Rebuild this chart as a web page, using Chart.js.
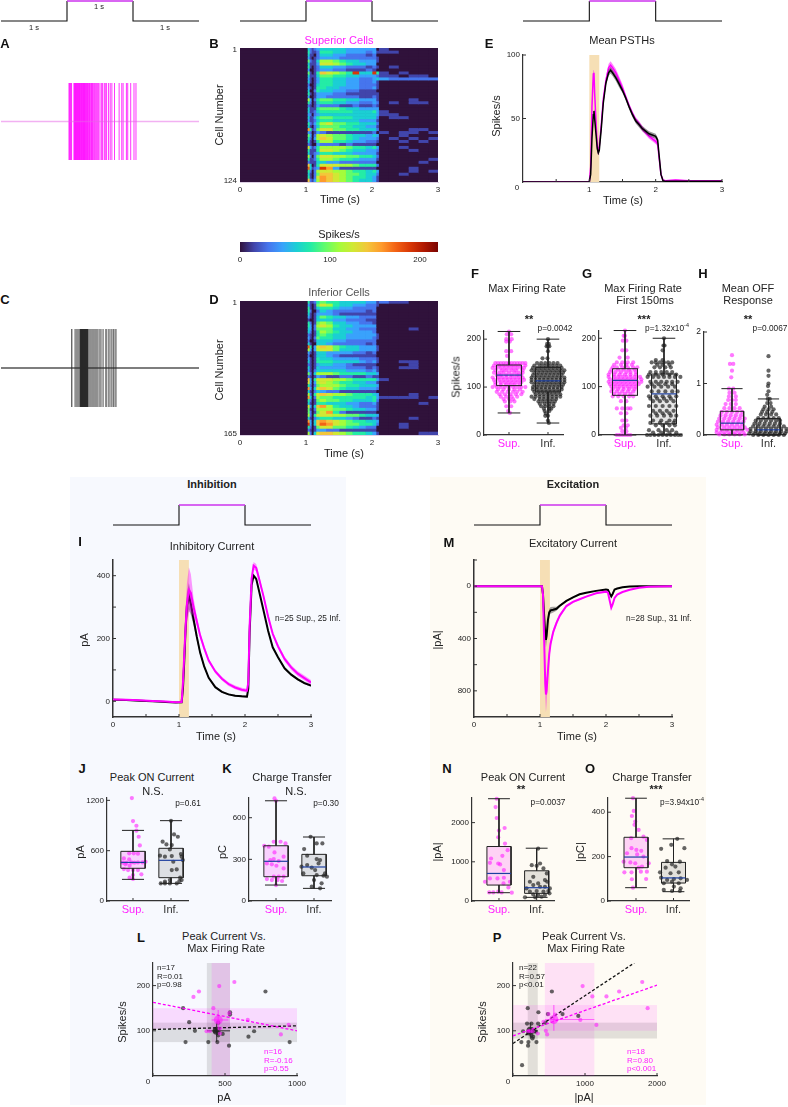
<!DOCTYPE html>
<html>
<head>
<meta charset="utf-8">
<title>Superior and inferior cells</title>
<script src="https://cdn.jsdelivr.net/npm/chart.js@4"></script>
<style>
  html, body { margin: 0; padding: 0; background: #fff; }
  #page { position: relative; width: 788px; height: 1107px; overflow: hidden; font-family: "Liberation Sans", Arial, sans-serif; color: #222; }
  #page canvas { position: absolute; }
  .bg { position: absolute; }
  .txt { position: absolute; white-space: nowrap; transform: translate(-50%, -50%); line-height: 1; }
  .txt sup { font-size: 0.65em; line-height: 0; }
</style>
</head>
<body>
<div id="page">
  <div class="bg" style="left:70px;top:477px;width:276px;height:628px;background:#f7f9fe"></div>
  <div class="bg" style="left:430px;top:477px;width:276px;height:628px;background:#fefbf4"></div>
</div>
<script>
// Stimulus step
const stimT = [0, 1, 1, 2, 2, 3];
const stimV = [0, 0, 1, 1, 0, 0];

// Example rasters (spike times, s)
const supSpikes = [1.03, 1.04, 1.05, 1.06, 1.07, 1.105, 1.112, 1.12, 1.128, 1.135, 1.142, 1.15, 1.157, 1.165, 1.172, 1.18, 1.187, 1.195, 1.2, 1.21, 1.217, 1.225, 1.232, 1.24, 1.25, 1.258, 1.265, 1.275, 1.283, 1.292, 1.3, 1.31, 1.32, 1.33, 1.34, 1.35, 1.362, 1.372, 1.385, 1.395, 1.408, 1.42, 1.435, 1.45, 1.465, 1.48, 1.5, 1.525, 1.54, 1.565, 1.58, 1.6, 1.63, 1.655, 1.68, 1.72, 1.79, 1.83, 1.85, 1.9, 1.92, 1.965, 2.015, 2.045];
const infSpikes = [1.07, 1.075, 1.12, 1.135, 1.15, 1.165, 1.18, 1.195, 1.2, 1.205, 1.21, 1.215, 1.22, 1.225, 1.23, 1.235, 1.24, 1.245, 1.25, 1.255, 1.26, 1.265, 1.27, 1.275, 1.28, 1.285, 1.29, 1.295, 1.3, 1.305, 1.31, 1.315, 1.32, 1.335, 1.35, 1.365, 1.38, 1.395, 1.41, 1.425, 1.44, 1.455, 1.47, 1.49, 1.51, 1.53, 1.55, 1.585, 1.6, 1.625, 1.64, 1.665, 1.68, 1.7, 1.71, 1.73, 1.745];

// Heat maps: time bins (s), colour levels, one string per row, one char per bin
const heatEdges = [0, 1.02, 1.05, 1.08, 1.11, 1.15, 1.2, 1.3, 1.4, 1.5, 1.6, 1.7, 1.8, 1.9, 2, 2.06, 2.1, 2.25, 2.4, 2.55, 2.7, 2.85, 3];
const heatColors = ['#30123b', '#4145ab', '#4675ed', '#39a2fc', '#1bcfd4', '#24eca6', '#61fc6c', '#a4fc3b', '#d1e834', '#f3c63a', '#fe9b2d', '#f36315', '#d93806', '#b11901', '#7a0402'];
const heatSup = [
  '0 42123 44443333 30 100000', '0 52112 55443332 31 110000', '0 41102 44332221 20 000000',
  '0 31012 33322222 21 000000', '0 62114 77654433 31 000000', '0 41113 88765443 30 000000',
  '0 51012 44332221 21 010000', '0 30012 33221112 10 000000', '0 61015 98765c44 c5 101000',
  '0 41114 66554433 32 110110', '0 31013 55443322 34 322222', '0 41013 55443322 31 000000',
  '0 20014 55443322 21 000000', '0 31015 54433322 31 000000', '0 40025 44332211 10 000000',
  '0 51013 33221111 11 000000', '0 30013 32222211 21 000000', '0 73025 66554433 31 000100',
  '0 52014 55443322 32 010110', '0 21013 22211211 21 000000', '0 41115 66654433 33 000000',
  '0 41124 55555444 53 100000', '0 32023 44444444 43 110000', '0 41135 66555444 42 011000',
  '0 31124 55444433 31 000000', '0 52135 78665544 42 000000', '0 41024 66655443 31 000000',
  '0 a5126 88665544 42 000110', '0 32013 21111111 20 101101', '0 63027 87665443 43 001000',
  '0 52037 98665433 32 010101', '0 41015 77554332 21 001010', '0 21003 22212111 10 000000',
  '0 83125 77776554 53 001000', '0 51115 88765443 32 000100', '0 41123 55444333 31 000000',
  '0 72026 88776655 42 000000', '0 51125 77655433 31 000001', '0 21114 43322222 20 000010',
  '0 94015 88877655 52 000000', '0 b4123 ca311111 10 000100', '0 52027 88776554 53 000101',
  '0 41026 99876654 42 001000', '0 51028 a9876554 31 000000', '0 92137 a9876544 31 000000'
];
const heatInf = [
  '0 51125 65544443 31 211000', '0 31016 87544332 21 000000', '0 51014 55433222 20 000000',
  '0 52002 43222221 20 000000', '0 41013 33211111 10 000000', '0 31014 65443322 20 000000',
  '0 10014 44332221 10 000000', '0 52016 76443322 10 000000', '0 53027 87544333 30 000000',
  '0 43026 66443322 20 000100', '0 42015 76544333 20 000000', '0 21015 65443333 31 000000',
  '0 31026 55443333 21 000000', '0 20014 44332222 20 000000', '0 41004 43222221 20 000000',
  '0 b5038 98654433 31 000000', '0 73037 88644433 31 000000', '0 31014 43333221 20 000000',
  '0 20014 43211111 10 000000', '0 31015 44333322 21 000000', '0 41015 55444432 31 001100',
  '0 21013 44332111 10 000100', '0 41014 33332221 21 001100', '0 31024 44443332 31 000000',
  '0 62047 77655554 43 000000', '0 21013 21122112 11 000000', '0 93058 88776555 53 100000',
  '0 83037 87655443 31 000000', '0 52026 77765544 43 000000', '0 a3048 98654433 32 000000',
  '0 41024 32211111 10 000000', '0 72058 98776555 43 000100', '0 a4027 66555554 53 111101',
  '0 52016 76655444 52 000000', '0 41015 54443322 31 000010', '0 83049 a7544322 21 000000',
  '0 61027 77665443 31 000000', '0 62016 8a521111 10 000000', '0 72058 88776654 43 000000',
  '0 41024 55443211 21 000100', '0 a3049 a9876554 43 000000', '0 c3049 ba876655 42 001000',
  '0 52016 88665432 20 001000', '0 21013 32211111 10 000000', '0 72048 99876554 31 000011'
];
const turboStops = ['#30123b', '#4145ab', '#4675ed', '#39a2fc', '#1bcfd4', '#24eca6', '#61fc6c', '#a4fc3b', '#d1e834', '#f3c63a', '#fe9b2d', '#f36315', '#d93806', '#b11901', '#7a0402'];

// Mean PSTHs
const psthT = [0, 0.5, 0.98, 1, 1.02, 1.04, 1.06, 1.07, 1.08, 1.1, 1.12, 1.135, 1.15, 1.18, 1.21, 1.25, 1.29, 1.32, 1.35, 1.4, 1.45, 1.5, 1.55, 1.6, 1.65, 1.7, 1.75, 1.8, 1.85, 1.9, 1.95, 2, 2.03, 2.05, 2.08, 2.11, 2.15, 2.3, 2.5, 2.7, 3];
const psthSup = [0, 0.2, 0, 0, 12, 60, 85, 86, 70, 48, 28, 24, 28, 45, 65, 80, 90, 92, 90, 86, 80, 74, 67, 60, 54, 49, 46, 42, 39, 36, 34, 32, 30, 20, 6, 1.5, 1, 1.5, 1, 1, 1];
const psthSupSem = [0, 0, 0, 0, 1, 2, 3, 3, 3, 2, 2, 2, 2, 2, 3, 3, 3, 3, 3, 3, 3, 3, 2, 2, 2, 2, 2, 2, 2, 2, 2, 2, 2, 2, 1, 0.5, 0.5, 0.5, 0.3, 0.3, 0.3];
const psthInf = [0, 0, 0, 0, 6, 35, 53, 56, 50, 38, 26, 23, 25, 42, 62, 78, 86, 88, 86, 82, 77, 72, 66, 59, 53, 48, 45, 42, 40, 38, 37, 36, 33, 22, 6, 1, 0.5, 0.5, 0.5, 0.5, 0.5];
const psthInfSem = [0, 0, 0, 0, 1, 2, 2.5, 2.5, 2, 2, 2, 2, 2, 2, 2, 2, 2.5, 2.5, 2.5, 2.5, 2.5, 2, 2, 2, 2, 2, 2, 2, 2, 2, 2, 2, 2, 1.5, 1, 0.3, 0.3, 0.3, 0.2, 0.2, 0.2];

// Inhibitory current
const inhT = [0, 0.2, 0.4, 0.6, 0.8, 0.95, 1.04, 1.06, 1.08, 1.1, 1.12, 1.15, 1.18, 1.22, 1.27, 1.32, 1.38, 1.45, 1.55, 1.65, 1.75, 1.85, 1.95, 2.03, 2.05, 2.07, 2.1, 2.13, 2.17, 2.22, 2.28, 2.35, 2.42, 2.5, 2.6, 2.7, 2.8, 2.9, 3];
const inhSup = [6, 5, 3, 1, -1, -3, -2, 60, 150, 240, 310, 355, 345, 300, 255, 210, 170, 130, 95, 72, 55, 44, 37, 34, 60, 240, 390, 432, 425, 385, 335, 270, 215, 175, 135, 108, 88, 74, 60];
const inhSupSem = [2, 2, 2, 2, 2, 2, 2, 20, 35, 50, 65, 72, 60, 30, 15, 10, 8, 6, 6, 6, 6, 6, 6, 6, 8, 10, 12, 12, 12, 10, 8, 8, 8, 8, 8, 8, 8, 8, 8];
const inhInf = [5, 4, 2, 0, -2, -4, -3, 40, 130, 230, 305, 335, 310, 262, 205, 155, 112, 75, 45, 30, 22, 18, 16, 15, 40, 220, 370, 400, 390, 345, 290, 225, 172, 140, 105, 85, 70, 58, 50];
const inhInfSem = [1, 1, 1, 1, 1, 1, 1, 10, 25, 35, 40, 42, 35, 20, 12, 8, 6, 4, 3, 3, 3, 3, 3, 3, 4, 6, 6, 6, 6, 5, 4, 4, 4, 4, 4, 4, 4, 4, 4];

// Excitatory current
const excT = [0, 0.5, 1, 1.03, 1.045, 1.06, 1.08, 1.09, 1.1, 1.12, 1.14, 1.16, 1.2, 1.25, 1.3, 1.4, 1.5, 1.6, 1.7, 1.85, 2, 2.03, 2.06, 2.08, 2.1, 2.13, 2.17, 2.25, 2.36, 2.5, 2.65, 2.8, 3];
const excSup = [0, 0, 0, 0, 60, 350, 750, 828, 800, 650, 520, 440, 350, 281, 225, 152, 120, 100, 80, 54, 42, 50, 120, 165, 140, 90, 65, 45, 28, 12, 5, 2, 0];
const excSupSem = [0, 0, 0, 0, 10, 30, 100, 135, 100, 60, 40, 30, 25, 20, 15, 10, 8, 6, 5, 4, 4, 4, 8, 12, 10, 6, 4, 3, 2, 1, 1, 0, 0];
const excInf = [0, 0, 0, 0, 60, 200, 380, 410, 380, 260, 200, 185, 180, 173, 150, 113, 85, 62, 50, 36, 26, 28, 60, 78, 60, 25, 18, 8, 3, 1, 0, 0, 0];
const excInfSem = [0, 0, 0, 0, 5, 15, 40, 60, 45, 30, 25, 25, 22, 15, 10, 6, 4, 3, 3, 2, 2, 2, 3, 4, 3, 2, 2, 1, 1, 0, 0, 0, 0];

// Box stats: low whisker, q1, median, q3, high whisker
const fSupBox = [46, 103, 125, 146, 216];
const fInfBox = [25, 90, 113, 141, 200];
const gSupBox = [0, 82, 113, 137, 216];
const gInfBox = [0, 23, 85, 126, 200];
const hSupBox = [0, 0.1, 0.23, 0.46, 0.9];
const hInfBox = [0, 0, 0.1, 0.32, 0.7];
const jSupBox = [258, 390, 460, 592, 842];
const jInfBox = [210, 278, 485, 628, 958];
const kSupBox = [115, 175, 286, 398, 722];
const kInfBox = [91, 182, 245, 336, 461];
const nSupBox = [212, 407, 703, 1390, 2610];
const nInfBox = [93, 195, 339, 771, 1347];
const oSupBox = [60, 150, 198, 287, 463];
const oInfBox = [42, 81, 104, 174, 280];

// Swarms as [value, [offsets from the box centre]]
const fSupRows = [[216, [0]], [210, [-0.08, 0.08]], [200, [-0.1, 0.1]], [195, [-0.1, 0.03]], [175, [-0.1, 0.08]], [165, [-0.07]], [150, [-0.5, -0.4, -0.3, -0.2, -0.1, 0, 0.1, 0.2, 0.3, 0.4, 0.5, 0.6]], [145, [-0.55, -0.35, -0.2, -0.05, 0.1, 0.25, 0.4, 0.6]], [140, [-0.6, -0.45, -0.3, -0.15, 0, 0.15, 0.3, 0.45, 0.55]], [135, [-0.5, -0.25, -0.1, 0.1, 0.25, 0.5]], [130, [-0.55, -0.35, -0.2, 0, 0.2, 0.35, 0.5]], [125, [-0.45, -0.3, -0.1, 0.1, 0.3, 0.45]], [120, [-0.6, -0.4, -0.25, -0.1, 0.05, 0.2, 0.35, 0.5]], [115, [-0.55, -0.35, -0.2, -0.05, 0.1, 0.25, 0.4, 0.55]], [110, [-0.5, -0.3, -0.15, 0, 0.15, 0.3, 0.45]], [105, [-0.5, -0.3, -0.1, 0.05, 0.2, 0.4]], [100, [-0.6, -0.45, -0.3, -0.15, 0, 0.15, 0.3, 0.45, 0.6]], [95, [-0.4, -0.2, 0, 0.2, 0.4]], [90, [-0.45, -0.25, -0.05, 0.15, 0.3, 0.5]], [85, [-0.35, -0.15, 0.05, 0.25, 0.45]], [80, [-0.3, -0.1, 0.1, 0.3]], [75, [-0.2, 0, 0.15]], [70, [-0.15, 0.05, 0.2]], [60, [-0.1, 0.08]], [50, [-0.03]], [46, [0.03]]];
const fInfRows = [[200, [0]], [190, [-0.03, 0.03]], [185, [-0.05, 0, 0.05]], [175, [0]], [160, [-0.2, -0.02]], [150, [-0.4, -0.25, -0.1, 0.05, 0.2, 0.35]], [145, [-0.5, -0.3, -0.15, 0, 0.15, 0.3, 0.45]], [140, [-0.55, -0.4, -0.25, -0.1, 0.05, 0.2, 0.35, 0.5]], [135, [-0.6, -0.45, -0.3, -0.15, 0, 0.15, 0.3, 0.45, 0.6]], [130, [-0.5, -0.35, -0.2, -0.05, 0.1, 0.25, 0.4, 0.55]], [125, [-0.55, -0.4, -0.25, -0.1, 0.05, 0.2, 0.35, 0.5]], [120, [-0.6, -0.45, -0.3, -0.15, 0, 0.15, 0.3, 0.45, 0.6]], [115, [-0.6, -0.45, -0.3, -0.15, 0, 0.15, 0.3, 0.45, 0.6]], [110, [-0.6, -0.45, -0.3, -0.15, 0, 0.15, 0.3, 0.45, 0.6]], [105, [-0.5, -0.35, -0.2, -0.05, 0.1, 0.25, 0.4, 0.55]], [100, [-0.55, -0.4, -0.25, -0.1, 0.05, 0.2, 0.35, 0.5]], [95, [-0.55, -0.4, -0.25, -0.1, 0.05, 0.2, 0.35, 0.5]], [90, [-0.5, -0.35, -0.2, -0.05, 0.1, 0.25, 0.4]], [85, [-0.45, -0.3, -0.15, 0, 0.15, 0.3, 0.45]], [80, [-0.6, -0.45, -0.3, -0.15, 0, 0.15, 0.3, 0.45]], [75, [-0.5, -0.3, -0.15, 0, 0.15, 0.3]], [70, [-0.35, -0.2, -0.05, 0.1, 0.25]], [65, [-0.3, -0.12, 0.05, 0.2]], [60, [-0.25, -0.1, 0.05, 0.2]], [55, [-0.15, 0.05, 0.12]], [50, [-0.12, 0.05]], [45, [-0.08]], [40, [-0.1, 0]], [30, [0]], [25, [0.03]]];
const gSupRows = [[216, [0]], [205, [0, -0.05]], [195, [-0.08, 0.05]], [175, [-0.1, 0.05]], [160, [-0.2, 0.1]], [150, [-0.3, -0.1, 0.1, 0.3]], [145, [-0.4, -0.15, 0.05, 0.25]], [140, [-0.45, -0.3, -0.1, 0.1, 0.3, 0.45]], [135, [-0.5, -0.25, -0.05, 0.15, 0.35]], [130, [-0.55, -0.35, -0.15, 0.05, 0.2, 0.4]], [125, [-0.6, -0.4, -0.2, 0, 0.2, 0.4]], [120, [-0.6, -0.4, -0.25, -0.1, 0.05, 0.2, 0.35, 0.55]], [115, [-0.55, -0.35, -0.2, -0.05, 0.1, 0.25, 0.4, 0.6]], [110, [-0.6, -0.45, -0.3, -0.15, 0, 0.15, 0.3, 0.45, 0.6]], [105, [-0.55, -0.4, -0.25, -0.1, 0.05, 0.2, 0.35, 0.5]], [100, [-0.5, -0.35, -0.2, -0.05, 0.1, 0.25, 0.4]], [95, [-0.45, -0.25, -0.05, 0.15, 0.35]], [90, [-0.5, -0.3, -0.1, 0.1, 0.3]], [85, [-0.4, -0.2, 0, 0.2]], [80, [-0.45, -0.25, -0.05, 0.15, 0.3]], [70, [-0.15, 0.05]], [55, [-0.3, -0.1, 0.1, 0.2]], [45, [-0.15, 0.05]], [30, [-0.1, 0.05]], [20, [-0.05, 0.1]], [15, [-0.15, 0.03]], [8, [-0.1, 0.05]], [0, [-0.3, -0.2, -0.1, 0, 0.1, 0.2]]];
const gInfRows = [[200, [0]], [185, [-0.02, 0.02]], [175, [-0.05]], [155, [-0.3, -0.05]], [150, [-0.45, -0.3, -0.15, 0, 0.15, 0.3]], [145, [-0.25, -0.05, 0.2]], [140, [-0.35, -0.15, 0.05, 0.25]], [130, [-0.5, -0.3, -0.1, 0.1, 0.3]], [125, [-0.55, -0.3, -0.05, 0.2, 0.45]], [120, [-0.6, -0.4, -0.2, 0, 0.2, 0.4, 0.6]], [110, [-0.5, -0.3, -0.1, 0.1, 0.3, 0.5]], [105, [-0.45, -0.2, 0.05, 0.3]], [100, [-0.6, -0.35, -0.1, 0.15, 0.4]], [90, [-0.45, -0.2, 0.05, 0.3, 0.5]], [80, [-0.55, -0.3, -0.05, 0.2, 0.45]], [75, [-0.5, -0.25, 0, 0.25]], [70, [-0.4, -0.15, 0.1, 0.35]], [60, [-0.55, -0.3, -0.05, 0.2, 0.45]], [50, [-0.4, -0.15, 0.1, 0.35]], [45, [-0.3, -0.05, 0.2]], [40, [-0.5, -0.25, 0, 0.25, 0.45]], [30, [-0.4, -0.1, 0.2, 0.4]], [25, [-0.5, -0.15, 0.1, 0.35]], [20, [-0.3, -0.05, 0.2, 0.4]], [10, [-0.55, -0.2, 0.1, 0.3]], [5, [-0.4, -0.1, 0.2, 0.45]], [0, [-0.62, -0.5, -0.35, -0.2, -0.05, 0.1, 0.25, 0.4, 0.52, 0.62]]];
const hSupRows = [[1.55, [0]], [1.38, [-0.08, 0.05]], [1.25, [0]], [1.12, [-0.03]], [0.9, [-0.12, 0.05]], [0.82, [-0.1, 0.1]], [0.75, [-0.12, 0.15]], [0.68, [-0.15, 0, 0.15]], [0.6, [-0.25, -0.05, 0.15]], [0.52, [-0.3, -0.1, 0.1, 0.3]], [0.45, [-0.4, -0.2, 0, 0.2, 0.4]], [0.38, [-0.45, -0.25, -0.05, 0.15, 0.35]], [0.32, [-0.5, -0.3, -0.1, 0.1, 0.3, 0.5]], [0.26, [-0.55, -0.35, -0.15, 0.05, 0.25, 0.45]], [0.2, [-0.6, -0.4, -0.2, 0, 0.2, 0.4]], [0.15, [-0.55, -0.3, -0.1, 0.1, 0.3, 0.5]], [0.1, [-0.6, -0.4, -0.2, 0, 0.2, 0.4, 0.6]], [0.05, [-0.6, -0.45, -0.3, -0.15, 0, 0.15, 0.3, 0.45]], [0.01, [-0.5, -0.3, -0.1, 0.1, 0.3, 0.5]]];
const hInfRows = [[1.53, [0]], [1.25, [0]], [1.15, [0]], [1, [0]], [0.95, [-0.02]], [0.85, [0]], [0.78, [-0.05]], [0.7, [-0.03, 0.05]], [0.62, [-0.05, 0.08]], [0.55, [-0.15, 0.1]], [0.5, [-0.2, 0, 0.2]], [0.45, [-0.25, -0.05, 0.15]], [0.4, [-0.3, -0.1, 0.1, 0.3]], [0.33, [-0.4, -0.2, 0, 0.2, 0.4]], [0.28, [-0.5, -0.3, -0.1, 0.1, 0.3, 0.45]], [0.22, [-0.55, -0.35, -0.15, 0.05, 0.25, 0.45]], [0.17, [-0.6, -0.4, -0.2, 0, 0.2, 0.4, 0.6]], [0.12, [-0.7, -0.5, -0.3, -0.1, 0.1, 0.3, 0.5, 0.7]], [0.07, [-0.7, -0.5, -0.3, -0.1, 0.1, 0.3, 0.5, 0.7]], [0.03, [-0.75, -0.55, -0.35, -0.15, 0.05, 0.25, 0.45, 0.65]], [0, [-0.6, -0.4, -0.2, 0, 0.2, 0.4, 0.6]]];

// Single cells as [offset, value]
const jSupPts = [[-0.03, 1227], [0, 953], [0.09, 897], [0.09, 838], [0.15, 766], [0.18, 663], [-0.1, 568], [0.02, 568], [0.13, 564], [-0.24, 508], [-0.1, 496], [-0.27, 457], [-0.18, 457], [-0.04, 460], [0.04, 457], [0.13, 460], [0.25, 460], [0.33, 468], [-0.2, 437], [-0.09, 421], [-0.24, 381], [-0.13, 369], [0, 369], [0.13, 369], [0.22, 318], [0, 310], [-0.09, 278], [0, 262]];
const jInfPts = [[0, 957], [0.08, 794], [0.18, 766], [-0.22, 707], [-0.12, 675], [0.02, 667], [-0.03, 615], [-0.29, 540], [-0.16, 528], [0.02, 536], [0.26, 560], [0.28, 528], [0.31, 488], [0.06, 468], [0.02, 369], [0.15, 377], [0.28, 250], [0.24, 278], [-0.03, 250], [-0.16, 230], [-0.27, 210], [-0.16, 210], [-0.03, 210], [0.15, 210], [0.22, 238]];
const kSupPts = [[-0.04, 739], [0, 722], [-0.06, 427], [0.12, 427], [0.25, 415], [-0.31, 398], [-0.19, 391], [-0.04, 350], [0.2, 319], [-0.15, 295], [-0.06, 302], [0.07, 288], [-0.24, 271], [-0.11, 264], [0.01, 254], [0.2, 235], [-0.06, 175], [0.07, 175], [0.2, 175], [-0.24, 158], [-0.11, 151], [0.04, 151], [0.16, 144], [0, 115]];
const kInfPts = [[-0.09, 463], [-0.26, 374], [0.22, 415], [0.07, 415], [-0.18, 326], [0.07, 302], [0.16, 295], [-0.18, 259], [-0.33, 247], [-0.06, 240], [0.12, 271], [0.03, 223], [-0.28, 199], [0.29, 199], [0.07, 187], [0.25, 182], [0.2, 127], [0, 151], [-0.06, 103], [0.16, 91], [0.34, 175]];
const nSupPts = [[-0.06, 2609], [-0.09, 2397], [-0.06, 2118], [0, 1796], [0.15, 1863], [-0.02, 1626], [0.16, 1465], [0.23, 1296], [0.09, 1152], [-0.21, 1084], [-0.02, 957], [0.03, 932], [-0.24, 974], [0.13, 788], [-0.04, 576], [0.13, 593], [-0.24, 576], [-0.37, 491], [0.12, 449], [0.29, 491], [0.25, 347], [-0.26, 220], [-0.15, 220], [-0.02, 237], [0.07, 220], [0.34, 212]];
const nInfPts = [[0.04, 1338], [0.09, 957], [-0.13, 915], [0, 898], [0.18, 830], [0.27, 703], [-0.09, 618], [0.22, 534], [-0.18, 491], [0.04, 449], [0.28, 491], [-0.27, 322], [-0.09, 407], [0.09, 364], [0.22, 364], [0.35, 322], [-0.18, 237], [0, 254], [0.18, 237], [0.31, 254], [-0.09, 169], [0.04, 152], [0.22, 152], [-0.31, 93], [-0.04, 93], [0.13, 110], [0.34, 195]];
const oSupPts = [[-0.08, 463], [-0.06, 406], [-0.11, 383], [-0.02, 358], [-0.04, 343], [0.07, 320], [0.2, 290], [-0.13, 283], [0.29, 275], [-0.12, 238], [0.01, 230], [0.14, 226], [-0.24, 215], [0.03, 210], [0.2, 200], [-0.33, 177], [-0.15, 174], [-0.02, 170], [0.34, 170], [0.16, 155], [0.07, 150], [-0.31, 129], [-0.12, 129], [0.13, 132], [0.29, 132], [-0.11, 98], [0.27, 99], [-0.08, 60]];
const oInfPts = [[0.1, 280], [-0.06, 253], [-0.33, 235], [0.29, 238], [-0.17, 180], [-0.04, 165], [0.17, 177], [0.05, 155], [-0.21, 150], [-0.36, 129], [-0.08, 125], [0.14, 129], [-0.33, 105], [-0.17, 95], [0.01, 99], [0.19, 102], [0.36, 95], [-0.26, 80], [-0.04, 87], [0.14, 80], [0.01, 65], [-0.26, 50], [0.19, 57], [-0.04, 45], [0.17, 45]];

// Scatter panels as [current, firing rate]
const lInfPts = [[209, 150], [251, 119], [226, 75], [291, 100], [384, 75], [447, 75], [453, 118], [528, 67], [535, 141], [535, 136], [702, 99], [663, 87], [781, 187], [949, 75], [484, 93], [442, 101], [430, 99], [453, 96], [453, 90]];
const lSupPts = [[281, 175], [319, 187], [460, 199], [565, 208], [419, 150], [658, 124], [530, 139], [942, 113], [888, 92], [372, 99], [395, 99], [465, 105], [465, 94], [453, 120]];
const lSupFit = [[0, 163], [1000, 100]];
const lInfFit = [[0, 103], [1000, 111]];
const lSupMean = [453, 124, 407, 523, 101, 146];
const lInfMean = [442, 100, 374, 535, 75, 117];
const pInfPts = [[540, 187], [205, 150], [353, 141], [907, 133], [688, 137], [484, 137], [451, 118], [195, 116], [256, 116], [349, 116], [140, 99], [233, 99], [302, 99], [316, 98], [116, 75], [214, 75], [326, 75], [209, 67], [270, 83], [126, 24], [279, 87], [256, 90], [209, 94]];
const pSupPts = [[967, 199], [1795, 208], [1102, 176], [1298, 176], [1474, 187], [1870, 150], [1158, 113], [935, 124], [586, 136], [493, 137], [423, 120], [456, 100], [474, 92], [344, 94], [209, 99], [242, 99], [274, 99]];
const pSupFit = [[0, 89], [2000, 201]];
const pInfFit = [[0, 72], [1684, 250]];
const pSupMean = [567, 125, 442, 1130, 100, 157];
const pInfMean = [242, 100, 205, 344, 83, 118];

const MAGENTA = '#ff00ff';
const SUP_DOT = 'rgba(255,30,255,0.6)';
const INF_DOT = 'rgba(35,35,35,0.7)';
const SHADE = '#f6dfb5';
const AXIS = '#333';
const PAD = { l: 40, r: 16, t: 10, b: 24 };
const SWARM_SPREAD = 0.7;

const page = document.getElementById('page');
Chart.defaults.font.family = '"Liberation Sans", Arial, sans-serif';
Chart.defaults.color = '#222';

// Shaded rectangles under the data, inward tick marks on top
function marks(rects, xTicks, yTicks, tickColor) {
  return {
    id: 'marks',
    beforeDatasetsDraw(chart) {
      const { ctx, chartArea: a, scales: { x, y } } = chart;
      ctx.save();
      rects.forEach(r => {
        const x0 = x.getPixelForValue(r.x[0]), x1 = x.getPixelForValue(r.x[1]);
        const y0 = r.y ? y.getPixelForValue(r.y[0]) : a.bottom, y1 = r.y ? y.getPixelForValue(r.y[1]) : a.top;
        ctx.fillStyle = r.color;
        ctx.fillRect(x0, y1, x1 - x0, y0 - y1);
      });
      ctx.restore();
    },
    afterDraw(chart) {
      const { ctx, chartArea: a, scales: { x, y } } = chart;
      ctx.save();
      ctx.strokeStyle = tickColor;
      ctx.lineWidth = 1;
      ctx.beginPath();
      xTicks.forEach(v => { const p = x.getPixelForValue(v); ctx.moveTo(p, a.bottom); ctx.lineTo(p, a.bottom - 3); });
      yTicks.forEach(v => { const p = y.getPixelForValue(v); ctx.moveTo(a.left, p); ctx.lineTo(a.left + 3, p); });
      ctx.stroke();
      ctx.restore();
    }
  };
}

function axis(min, max, ticks, o = {}) {
  const fit = o.fit;
  return {
    type: o.type || 'linear',
    min, max,
    reverse: !!o.reverse,
    stacked: !!o.stacked,
    grid: { display: false, drawTicks: false },
    border: { display: !o.hidden, color: o.border || AXIS, width: o.borderWidth || 1.2 },
    afterBuildTicks: s => { if (ticks) s.ticks = ticks.map(value => ({ value })); },
    afterFit: s => { if (fit === 'w') s.width = PAD.l; else s.height = PAD.b; },
    ticks: {
      display: !o.hidden,
      autoSkip: false,
      maxRotation: 0,
      minRotation: 0,
      padding: o.padding === undefined ? 3 : o.padding,
      color: o.color || '#222',
      font: { size: o.font || 8 },
      callback: o.label || (v => String(v))
    }
  };
}

// Datasets draw in array order, last one on top. Bars keep their stacking order.
function place(box, type, data, scales, plugins = [], extra = {}) {
  const c = document.createElement('canvas');
  const w = box.r - box.l + PAD.l + PAD.r, h = box.b - box.t + PAD.t + PAD.b;
  c.width = w; c.height = h;
  c.style.left = (box.l - PAD.l) + 'px';
  c.style.top = (box.t - PAD.t) + 'px';
  c.style.width = w + 'px';
  c.style.height = h + 'px';
  page.appendChild(c);
  if (type !== 'bar') data.datasets.forEach((d, i) => { d.order = data.datasets.length - i; });
  return new Chart(c, {
    type, data,
    plugins,
    options: Object.assign({
      responsive: false,
      animation: false,
      devicePixelRatio: 1,
      layout: { autoPadding: false, padding: { left: 0, right: PAD.r, top: PAD.t, bottom: 0 } },
      plugins: { legend: { display: false }, tooltip: { enabled: false } },
      scales
    }, extra)
  });
}

function line(pts, color, width, extra = {}) {
  return Object.assign({ type: 'line', data: pts, borderColor: color, borderWidth: width, pointRadius: 0, tension: 0, fill: false }, extra);
}
function dots(pts, color, radius = 2.1) {
  return { type: 'line', data: pts, showLine: false, pointRadius: radius, pointBackgroundColor: color, pointBorderWidth: 0, clip: false };
}
const zip = (xs, ys) => xs.map((x, i) => ({ x, y: ys[i] }));

// Band + mean for one trace
function trace(t, mean, sem, color, band, width) {
  return [
    line(zip(t, mean.map((m, i) => m + sem[i])), 'transparent', 0, { fill: '+1', backgroundColor: band }),
    line(zip(t, mean.map((m, i) => m - sem[i])), 'transparent', 0),
    line(zip(t, mean), color, width)
  ];
}

function stim(box) {
  const pts = stimT.map((x, i) => ({ x, y: stimV[i] }));
  place(box, 'line', {
    datasets: [
      line(pts.slice(0, 3), '#111', 1.1, { clip: false }),
      line(pts.slice(3), '#111', 1.1, { clip: false }),
      line(pts.slice(2, 4), '#cc33ee', 1.4, { clip: false })
    ]
  }, {
    x: axis(0, 3, null, { hidden: true, fit: 'h' }),
    y: axis(0, 1, null, { hidden: true, fit: 'w' })
  });
}

function raster(box, spikes, color, width, midColor) {
  const pts = spikes.flatMap(t => [{ x: t, y: 0 }, { x: t, y: 1 }, { x: t, y: null }]);
  place(box, 'line', {
    datasets: [
      line(pts, color, width),
      line([{ x: 0, y: 0.5 }, { x: 3, y: 0.5 }], midColor, 1.5)
    ]
  }, {
    x: axis(0, 3, null, { hidden: true, fit: 'h' }),
    y: axis(0, 1, null, { hidden: true, fit: 'w' })
  });
}

function heat(box, rows, lastLabel) {
  const clean = rows.map(r => r.replace(/ /g, ''));
  const labels = clean.map((_, i) => 'row' + i);
  const datasets = heatEdges.slice(1).map((edge, b) => ({
    data: clean.map(() => edge - heatEdges[b]),
    backgroundColor: clean.map(r => heatColors[parseInt(r[b], 16)]),
    borderWidth: 0,
    barPercentage: 1,
    categoryPercentage: 1
  }));
  place(box, 'bar', { labels, datasets }, {
    x: axis(0, 3, [0, 1, 2, 3], { stacked: true, fit: 'h', border: '#ddd0e4', borderWidth: 1, font: 8 }),
    y: axis(undefined, undefined, null, {
      type: 'category', stacked: true, fit: 'w', border: '#ddd0e4', borderWidth: 1, font: 8,
      label: (v, i) => i === 0 ? '1' : (i === rows.length - 1 ? lastLabel : '')
    })
  }, [marks([{ x: [0, 3], color: heatColors[0] }], [], [], AXIS)], { indexAxis: 'y' });
}

function swarm(rows, c) {
  return rows.flatMap(([y, offs]) => offs.map(o => ({ x: c + o * SWARM_SPREAD, y })));
}
function offsets(pts, c) {
  return pts.map(([o, y]) => ({ x: c + o, y }));
}

// One box: whiskers with caps and outline, median on top
function boxLines(c, s) {
  const [lo, q1, med, q3, hi] = s;
  const w = 0.32, cap = 0.29;
  const path = [
    { x: c - cap, y: hi }, { x: c + cap, y: hi }, { x: c + cap, y: null },
    { x: c, y: hi }, { x: c, y: q3 }, { x: c, y: null },
    { x: c - w, y: q3 }, { x: c + w, y: q3 }, { x: c + w, y: q1 }, { x: c - w, y: q1 }, { x: c - w, y: q3 }, { x: c - w, y: null },
    { x: c, y: q1 }, { x: c, y: lo }, { x: c, y: null },
    { x: c - cap, y: lo }, { x: c + cap, y: lo }
  ];
  return [
    line(path, '#222', 1, { clip: false }),
    line([{ x: c - w, y: med }, { x: c + w, y: med }], '#1d3fa0', 1.2)
  ];
}

function boxPanel(box, xMin, xMax, yMax, yTicks, supPts, infPts, supBox, infBox, font) {
  const rects = [
    { x: [1 - 0.32, 1 + 0.32], y: [supBox[1], supBox[3]], color: 'rgba(255,0,255,0.16)' },
    { x: [2 - 0.32, 2 + 0.32], y: [infBox[1], infBox[3]], color: 'rgba(0,0,0,0.1)' }
  ];
  place(box, 'line', {
    datasets: [
      dots(supPts, SUP_DOT),
      dots(infPts, INF_DOT),
      ...boxLines(1, supBox),
      ...boxLines(2, infBox)
    ]
  }, {
    x: axis(xMin, xMax, [1, 2], {
      fit: 'h', font: 11, padding: 2,
      color: ctx => ctx.tick && ctx.tick.value === 1 ? '#ff22ff' : '#333',
      label: v => v === 1 ? 'Sup.' : 'Inf.'
    }),
    y: axis(0, yMax, yTicks, { fit: 'w', font })
  }, [marks(rects, [1, 2], yTicks, AXIS)]);
}

function toPts(list) { return list.map(([x, y]) => ({ x, y })); }

// Mean point with its error cross
function cross(m, color, width, radius) {
  const [x, y, x0, x1, y0, y1] = m;
  return [
    line([{ x: x0, y }, { x: x1, y }], color, width),
    line([{ x, y: y0 }, { x, y: y1 }], color, width),
    dots([{ x, y }], color, radius)
  ];
}

function scatterPanel(box, xMax, xTicks, rects, supPts, infPts, supFit, infFit, supMean, infMean) {
  place(box, 'line', {
    datasets: [
      dots(toPts(infPts), INF_DOT),
      ...cross(infMean, 'rgba(35,35,35,0.8)', 1.2, 4),
      line(toPts(infFit), '#111', 1.3, { borderDash: [3, 2] }),
      dots(toPts(supPts), SUP_DOT),
      ...cross(supMean, 'rgba(255,30,255,0.6)', 1.2, 4.5),
      line(toPts(supFit), MAGENTA, 1.3, { borderDash: [3, 2] })
    ]
  }, {
    x: axis(0, xMax, xTicks.filter(v => v > 0), { fit: 'h' }),
    y: axis(0, 250, [100, 200], { fit: 'w' })
  }, [marks(rects, xTicks, [100, 200], AXIS)]);
}

// ---- top row
stim({ l: 1, r: 199, t: 1, b: 21 });
stim({ l: 240, r: 438, t: 1, b: 21 });
stim({ l: 523, r: 722, t: 1, b: 21 });
raster({ l: 1, r: 199, t: 83, b: 160 }, supSpikes, MAGENTA, 0.8, 'rgba(230,100,230,0.5)');
raster({ l: 1, r: 199, t: 329, b: 407 }, infSpikes, '#000', 0.5, 'rgba(40,40,40,0.8)');
heat({ l: 240, r: 438, t: 48, b: 182 }, heatSup, '124');
heat({ l: 240, r: 438, t: 301, b: 435 }, heatInf, '165');

// Colour bar
place({ l: 240, r: 438, t: 242, b: 252 }, 'bar', {
  labels: ['Spikes/s'],
  datasets: [{
    data: [220],
    barPercentage: 1,
    categoryPercentage: 1,
    borderWidth: 0,
    backgroundColor: ctx => {
      const a = ctx.chart.chartArea;
      if (!a) return turboStops[0];
      const g = ctx.chart.ctx.createLinearGradient(a.left, 0, a.right, 0);
      turboStops.forEach((s, i) => g.addColorStop(i / (turboStops.length - 1), s));
      return g;
    }
  }]
}, {
  x: axis(0, 220, [0, 100, 200], { fit: 'h', border: 'transparent', font: 8 }),
  y: axis(undefined, undefined, null, { type: 'category', hidden: true, fit: 'w' })
}, [], { indexAxis: 'y' });

// Mean PSTHs
place({ l: 523, r: 722, t: 55, b: 182 }, 'line', {
  datasets: [
    ...trace(psthT, psthSup, psthSupSem, MAGENTA, 'rgba(255,0,255,0.5)', 1.5),
    ...trace(psthT, psthInf, psthInfSem, '#000', 'rgba(0,0,0,0.4)', 1.5)
  ]
}, {
  x: axis(0, 3, [1, 2, 3], { fit: 'h' }),
  y: axis(0, 100, [50, 100], { fit: 'w' })
}, [marks([{ x: [1, 1.15], color: SHADE }], [0.5, 1, 1.5, 2, 2.5, 3], [50, 100], AXIS)]);

// ---- swarms F G H
boxPanel({ l: 484, r: 563, t: 331, b: 435 }, 0.359, 2.385, 217, [0, 100, 200], swarm(fSupRows, 1), swarm(fInfRows, 2), fSupBox, fInfBox, 8.5);
boxPanel({ l: 599, r: 681, t: 331, b: 435 }, 0.333, 2.436, 215, [0, 100, 200], swarm(gSupRows, 1), swarm(gInfRows, 2), gSupBox, gInfBox, 8.5);
boxPanel({ l: 704, r: 785, t: 332, b: 435 }, 0.233, 2.452, 2, [0, 1, 2], swarm(hSupRows, 1), swarm(hInfRows, 2), hSupBox, hInfBox, 8.5);

// ---- current panels
stim({ l: 113, r: 311, t: 505, b: 525 });
stim({ l: 474, r: 672, t: 505, b: 525 });
place({ l: 113, r: 311, t: 560, b: 717 }, 'line', {
  datasets: [
    ...trace(inhT, inhInf, inhInfSem, '#000', 'rgba(0,0,0,0.35)', 2),
    ...trace(inhT, inhSup, inhSupSem, MAGENTA, 'rgba(255,0,255,0.4)', 2)
  ]
}, {
  x: axis(0, 3, [0, 1, 2, 3], { fit: 'h', borderWidth: 1.5 }),
  y: axis(-50, 450, [0, 200, 400], { fit: 'w', borderWidth: 1.5 })
}, [marks([{ x: [1, 1.15], color: SHADE }], [0.5, 1, 1.5, 2, 2.5, 3], [0, 100, 200, 300, 400], AXIS)]);
place({ l: 474, r: 672, t: 560, b: 717 }, 'line', {
  datasets: [
    ...trace(excT, excInf, excInfSem, '#000', 'rgba(0,0,0,0.35)', 2),
    ...trace(excT, excSup, excSupSem, MAGENTA, 'rgba(255,0,255,0.4)', 2)
  ]
}, {
  x: axis(0, 3, [0, 1, 2, 3], { fit: 'h', borderWidth: 1.5 }),
  y: axis(-200, 1000, [0, 400, 800], { fit: 'w', reverse: true, borderWidth: 1.5 })
}, [marks([{ x: [1, 1.15], color: SHADE }], [0.5, 1, 1.5, 2, 2.5, 3], [-200, 0, 200, 400, 600, 800], AXIS)]);

// ---- peak and charge boxes
boxPanel({ l: 107, r: 188, t: 798, b: 901 }, 0.316, 2.447, 1228, [0, 600, 1200], offsets(jSupPts, 1), offsets(jInfPts, 2), jSupBox, jInfBox, 8);
boxPanel({ l: 249, r: 331, t: 798, b: 901 }, 0.289, 2.447, 742, [0, 300, 600], offsets(kSupPts, 1), offsets(kInfPts, 2), kSupBox, kInfBox, 8);
boxPanel({ l: 472, r: 554, t: 798, b: 901 }, 0.284, 2.46, 2628, [0, 1000, 2000], offsets(nSupPts, 1), offsets(nInfPts, 2), nSupBox, nInfBox, 8);
boxPanel({ l: 608, r: 689, t: 798, b: 901 }, 0.253, 2.413, 464, [0, 200, 400], offsets(oSupPts, 1), offsets(oInfPts, 2), oSupBox, oInfBox, 8);

// ---- scatter L P
scatterPanel({ l: 153, r: 297, t: 963, b: 1076 }, 1000, [0, 500, 1000], [
  { x: [374, 535], color: 'rgba(60,60,60,0.14)' },
  { x: [407, 535], color: 'rgba(255,0,255,0.12)' },
  { x: [0, 1000], y: [75, 118], color: 'rgba(60,60,60,0.14)' },
  { x: [0, 1000], y: [104, 150], color: 'rgba(255,0,255,0.12)' }
], lSupPts, lInfPts, lSupFit, lInfFit, lSupMean, lInfMean);
scatterPanel({ l: 513, r: 657, t: 963, b: 1076 }, 2000, [0, 1000, 2000], [
  { x: [205, 344], color: 'rgba(60,60,60,0.14)' },
  { x: [442, 1130], color: 'rgba(255,0,255,0.1)' },
  { x: [0, 2000], y: [83, 118], color: 'rgba(60,60,60,0.14)' },
  { x: [0, 2000], y: [100, 157], color: 'rgba(255,0,255,0.1)' }
], pSupPts, pInfPts, pSupFit, pInfFit, pSupMean, pInfMean);

// ---- text
function txt(html, x, y, o = {}) {
  const d = document.createElement('div');
  d.className = 'txt';
  d.innerHTML = html;
  d.style.left = x + 'px';
  d.style.top = y + 'px';
  d.style.fontSize = (o.size || 11) + 'px';
  if (o.color) d.style.color = o.color;
  if (o.bold) d.style.fontWeight = 'bold';
  if (o.rot) d.style.transform = 'translate(-50%,-50%) rotate(-90deg)';
  if (o.left) d.style.transform = 'translate(0,-50%)';
  page.appendChild(d);
}
const letter = (s, x, y) => txt(s, x, y, { size: 13, bold: true, color: '#111' });
[['A', 5, 43], ['B', 214, 43], ['C', 5, 299], ['D', 214, 299], ['E', 489, 43], ['F', 475, 273], ['G', 587, 273], ['H', 703, 273], ['I', 80, 541], ['M', 449, 542], ['J', 82, 768], ['K', 227, 768], ['N', 447, 768], ['O', 590, 768], ['L', 141, 937], ['P', 497, 937]].forEach(l => letter(...l));

[['1 s', 99, 7], ['1 s', 34, 28], ['1 s', 165, 28]].forEach(t => txt(t[0], t[1], t[2], { size: 7.5 }));

txt('Superior Cells', 339, 40, { color: '#ff22ff' });
txt('Inferior Cells', 339, 292, { color: '#555' });
txt('Time (s)', 340, 199);
txt('Time (s)', 344, 453);
txt('Time (s)', 623, 200);
txt('Time (s)', 216, 736);
txt('Time (s)', 577, 736);
txt('Cell Number', 219, 115, { rot: true });
txt('Cell Number', 219, 370, { rot: true });
txt('Spikes/s', 339, 234);
txt('Mean PSTHs', 622, 40);
txt('Spikes/s', 496, 116, { rot: true });
txt('0', 517, 188, { size: 8 });

txt('Max Firing Rate', 527, 288);
txt('Max Firing Rate', 643, 288);
txt('First 150ms', 645, 300);
txt('Mean OFF', 748, 288);
txt('Response', 748, 300);
txt('**', 529, 319, { size: 11, bold: true });
txt('***', 644, 319, { size: 11, bold: true });
txt('**', 748, 319, { size: 11, bold: true });
txt('p=0.0042', 555, 328, { size: 8.3 });
txt('p=1.32x10<sup>-4</sup>', 667, 328, { size: 8.3 });
txt('p=0.0067', 770, 328, { size: 8.3 });
txt('Spikes/s', 456, 377, { rot: true });

txt('Inhibition', 212, 484, { bold: true });
txt('Excitation', 573, 484, { bold: true });
txt('Inhibitory Current', 212, 546);
txt('Excitatory Current', 573, 543);
txt('pA', 84, 640, { rot: true });
txt('|pA|', 437, 640, { rot: true });
txt('n=25 Sup., 25 Inf.', 275, 618, { size: 8.3, left: true });
txt('n=28 Sup., 31 Inf.', 626, 618, { size: 8.3, left: true });

txt('Peak ON Current', 152, 777);
txt('N.S.', 153, 791);
txt('p=0.61', 188, 803, { size: 8.3 });
txt('Charge Transfer', 292, 777);
txt('N.S.', 296, 791);
txt('p=0.30', 326, 803, { size: 8.3 });
txt('Peak ON Current', 523, 777);
txt('**', 521, 789, { bold: true });
txt('p=0.0037', 548, 802, { size: 8.3 });
txt('Charge Transfer', 652, 777);
txt('***', 656, 789, { bold: true });
txt('p=3.94x10<sup>-4</sup>', 682, 802, { size: 8.3 });
txt('pA', 80, 852, { rot: true });
txt('pC', 222, 852, { rot: true });
txt('|pA|', 437, 852, { rot: true });
txt('|pC|', 580, 852, { rot: true });

txt('Peak Current Vs.', 224, 936);
txt('Max Firing Rate', 226, 948);
txt('Peak Current Vs.', 584, 936);
txt('Max Firing Rate', 586, 948);
txt('pA', 224, 1097);
txt('|pA|', 584, 1097);
txt('Spikes/s', 122, 1022, { rot: true });
txt('Spikes/s', 482, 1022, { rot: true });
txt('0', 148, 1082, { size: 8 });
txt('0', 508, 1082, { size: 8 });
const stats = (lines, x, y, color) => lines.forEach((s, i) => txt(s, x, y + i * 8.6, { size: 8, left: true, color }));
stats(['n=17', 'R=0.01', 'p=0.98'], 157, 968, '#222');
stats(['n=16', 'R=-0.16', 'p=0.55'], 264, 1052, '#ff22ff');
stats(['n=22', 'R=0.57', 'p<0.01'], 519, 968, '#222');
stats(['n=18', 'R=0.80', 'p<0.001'], 627, 1052, '#ff22ff');
</script>
</body>
</html>
